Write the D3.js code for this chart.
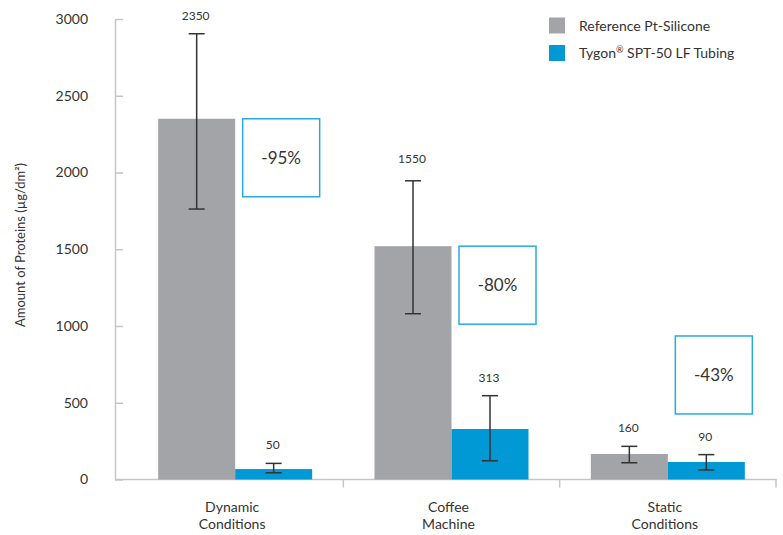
<!DOCTYPE html>
<html>
<head>
<meta charset="utf-8">
<script src="https://cdn.jsdelivr.net/npm/d3@7"></script>
<style>
  body { margin: 0; background: #fff; }
  text { font-family: Lato, "Open Sans", sans-serif; fill: #333; }
</style>
</head>
<body>
<div id="chart"></div>
<script>
var categories = [['Dynamic', 'Conditions'], ['Coffee', 'Machine'], ['Static', 'Conditions']]
var series = [['Reference Pt-Silicone', '', ''], ['Tygon', '®', ' SPT-50 LF Tubing']]
var colors = ['#a3a4a8', '#0099d6']

// bar heights as drawn, and the value labels printed above them
var referenceValues = [2350, 1520, 166]
var tygonValues = [68, 329, 114]
var referenceLabels = ['2350', '1550', '160']
var tygonLabels = ['50', '313', '90']
// error bars [low, high]
var referenceErrors = [[1762, 2904], [1080, 1946], [109, 216]]
var tygonErrors = [[44, 105], [122, 546], [62, 162]]
// reduction boxes: text and top of box (data units)
var reductions = ['-95%', '-80%', '-43%']
var reductionTops = [2350, 1520, 935]
var yTicks = [0, 500, 1000, 1500, 2000, 2500, 3000]

var width = 783, height = 535
var svg = d3.select('#chart').append('svg')
    .attr('width', width)
    .attr('height', height)

var y = d3.scaleLinear().domain([0, 3000]).range([479.5, 19])
var x0 = d3.scaleBand().domain(d3.range(categories.length)).range([127, 776])
var groupW = 154
var pad = (x0.bandwidth() - groupW) / 2
var x1 = d3.scaleBand().domain(d3.range(series.length)).range([pad, pad + groupW])

var axisColor = '#c6c6c6'

// y axis
var yAxis = svg.append('g')
    .attr('transform', 'translate(115,0)')
    .call(d3.axisLeft(y).tickValues(yTicks).tickFormat(d3.format('d'))
        .tickSizeInner(-8).tickSizeOuter(0).tickPadding(27))
yAxis.selectAll('path, line').attr('stroke', axisColor).attr('stroke-width', 1.5)
yAxis.selectAll('text').attr('font-size', 14).attr('fill', '#333')
    .style('font-family', 'Lato, "Open Sans", sans-serif')

// x axis baseline and separators
svg.append('line')
    .attr('x1', 115).attr('x2', 777)
    .attr('y1', y(0)).attr('y2', y(0))
    .attr('stroke', axisColor).attr('stroke-width', 1.5)
svg.selectAll('.xtick')
    .data(d3.range(1, categories.length + 1))
    .enter().append('line')
    .attr('x1', function (d) { return x0.range()[0] + d * x0.step() })
    .attr('x2', function (d) { return x0.range()[0] + d * x0.step() })
    .attr('y1', y(0)).attr('y2', y(0) + 8)
    .attr('stroke', axisColor).attr('stroke-width', 1.5)

// category labels
var cat = svg.selectAll('.cat')
    .data(categories)
    .enter().append('text')
    .attr('text-anchor', 'middle')
    .attr('font-size', 14)
    .attr('transform', function (d, i) { return 'translate(' + (x0(i) + x0.bandwidth() / 2 - 3) + ',512)' })
cat.selectAll('tspan')
    .data(function (d) { return d })
    .enter().append('tspan')
    .attr('x', 0)
    .attr('dy', function (d, i) { return i === 0 ? 0 : 17 })
    .text(function (d) { return d })

// bars
var rows = []
categories.forEach(function (c, i) {
    rows.push({ c: i, s: 0, v: referenceValues[i], err: referenceErrors[i], label: referenceLabels[i] })
    rows.push({ c: i, s: 1, v: tygonValues[i], err: tygonErrors[i], label: tygonLabels[i] })
})

svg.selectAll('.bar')
    .data(rows)
    .enter().append('rect')
    .attr('x', function (d) { return x0(d.c) + x1(d.s) })
    .attr('width', x1.bandwidth())
    .attr('y', function (d) { return y(d.v) })
    .attr('height', function (d) { return y(0) - y(d.v) })
    .attr('fill', function (d) { return colors[d.s] })

// error bars
var eb = svg.selectAll('.err')
    .data(rows)
    .enter().append('g')
    .attr('transform', function (d) { return 'translate(' + (x0(d.c) + x1(d.s) + x1.bandwidth() / 2) + ',0)' })
    .attr('stroke', '#333')
    .attr('stroke-width', 1.5)
eb.append('line')
    .attr('y1', function (d) { return y(d.err[0]) })
    .attr('y2', function (d) { return y(d.err[1]) })
eb.append('line')
    .attr('x1', -8).attr('x2', 8)
    .attr('y1', function (d) { return y(d.err[0]) })
    .attr('y2', function (d) { return y(d.err[0]) })
eb.append('line')
    .attr('x1', -8).attr('x2', 8)
    .attr('y1', function (d) { return y(d.err[1]) })
    .attr('y2', function (d) { return y(d.err[1]) })

// value labels
svg.selectAll('.vlabel')
    .data(rows)
    .enter().append('text')
    .attr('x', function (d) { return x0(d.c) + x1(d.s) + x1.bandwidth() / 2 - 1 })
    .attr('y', function (d) { return y(d.err[1]) - (d.label === '1550' ? 18 : 14) })
    .attr('text-anchor', 'middle')
    .attr('font-size', 12)
    .text(function (d) { return d.label })

// reduction boxes
var boxH = 78
var box = svg.selectAll('.box')
    .data(reductions)
    .enter().append('g')
    .attr('transform', function (d, i) { return 'translate(' + (x0(i) + x1(1) + 7.5) + ',' + y(reductionTops[i]) + ')' })
box.append('rect')
    .attr('width', x1.bandwidth())
    .attr('height', boxH)
    .attr('fill', '#fff')
    .attr('stroke', '#2aa9e0')
    .attr('stroke-width', 1.5)
box.append('text')
    .attr('x', x1.bandwidth() / 2)
    .attr('y', boxH / 2 + 6)
    .attr('text-anchor', 'middle')
    .attr('font-size', 17)
    .text(function (d) { return d })

// y title
svg.append('text')
    .attr('transform', 'translate(25,245) rotate(-90)')
    .attr('text-anchor', 'middle')
    .attr('font-size', 13)
    .text('Amount of Proteins (µg/dm²)')

// legend
var legend = svg.selectAll('.legend')
    .data(series)
    .enter().append('g')
    .attr('transform', function (d, i) { return 'translate(549,' + (17.5 + i * 27.5) + ')' })
legend.append('rect')
    .attr('width', 16).attr('height', 16)
    .attr('fill', function (d, i) { return colors[i] })
var lt = legend.append('text')
    .attr('x', 30).attr('y', 13)
    .attr('font-size', 14)
lt.append('tspan').text(function (d) { return d[0] })
lt.append('tspan').attr('font-size', 9).attr('dy', -5).text(function (d) { return d[1] })
lt.append('tspan').attr('dy', function (d) { return d[1] ? 5 : 0 }).text(function (d) { return d[2] })
</script>
</body>
</html>
